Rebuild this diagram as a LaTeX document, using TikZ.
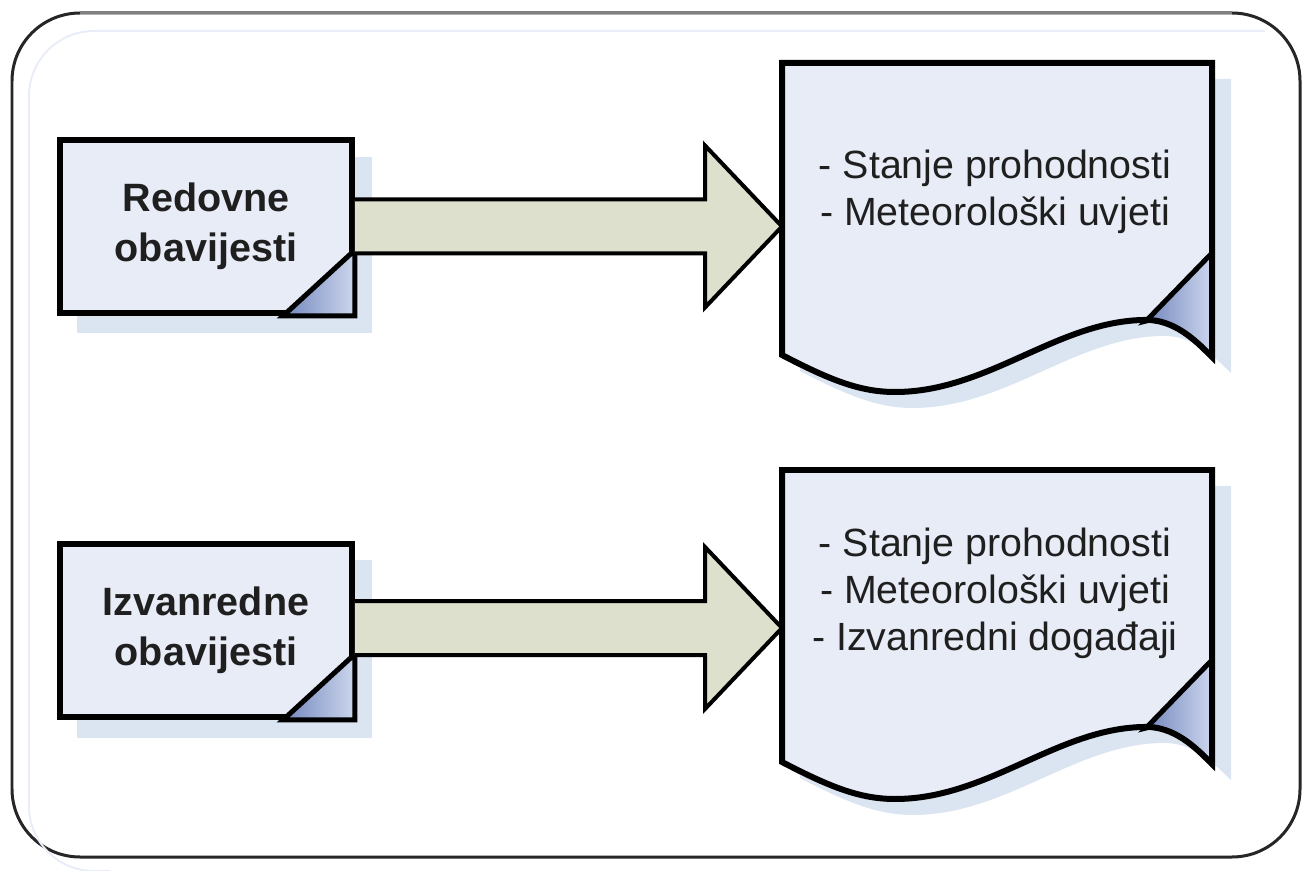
\documentclass[tikz,border=0pt]{standalone}
\usepackage{fontspec}
\setmainfont{Liberation Sans}
\usetikzlibrary{calc}

\begin{document}
\begin{tikzpicture}[x=0.02cm,y=-0.02cm,
  infobox/.style={draw=black,line width=0.12cm,fill=cbox,minimum width=5.84cm,minimum height=3.46cm,
    inner sep=0pt,align=center,text=ctext,font=\fontsize{22.5}{28.5}\selectfont\bfseries},
  doctext/.style={align=center,text=ctext,font=\fontsize{22.4}{26.7}\selectfont},
  blockarrow/.style={draw=black,line width=0.08cm,fill=carrow,line join=miter},
  docline/.style={draw=black,line width=0.12cm,line join=miter},
  fold/.style={left color=cfolda,right color=cfoldb,draw=black,line width=0.1cm,line join=miter},
  shadow/.style={fill=cshadow,draw=none}]
%
\useasboundingbox (0,0) rectangle (1302,871);
%
\definecolor{cframe}{rgb}{0.15,0.15,0.15}
\definecolor{ctop}{rgb}{0.5,0.5,0.5}
\definecolor{cinner}{rgb}{0.91,0.93,0.97}
\definecolor{cbox}{rgb}{0.91,0.925,0.965}
\definecolor{cshadow}{rgb}{0.86,0.895,0.945}
\definecolor{carrow}{rgb}{0.867,0.878,0.8}
\definecolor{cfolda}{rgb}{0.45,0.53,0.74}
\definecolor{cfoldb}{rgb}{0.8,0.84,0.93}
\definecolor{ctext}{rgb}{0.12,0.12,0.12}
%
% frame
\draw[line width=0.06cm,color=cframe,rounded corners=1.36cm] (12,13) rectangle (1300,857);
\draw[line width=0.06cm,color=ctop] (80,13) -- (1232,13);
\draw[line width=0.04cm,color=cinner,rounded corners=1.3cm] (1265,31) -- (29,31) -- (29,871) -- (110,871);
%
% shadows
\fill[shadow] (77,157) rectangle (372,333);
\fill[shadow] (77,560) rectangle (372,738);
\fill[shadow] (800,79) -- (1231,79) -- (1231,373) .. controls (1218,361) and (1198,338) .. (1168,336)
  .. controls (1078,334) and (1008,408) .. (913,408) .. controls (878,408) and (848,396) .. (800,371) -- cycle;
\fill[shadow] (800,486) -- (1231,486) -- (1231,780) .. controls (1218,768) and (1198,745) .. (1168,743)
  .. controls (1078,741) and (1008,815) .. (913,815) .. controls (878,815) and (848,803) .. (800,778) -- cycle;
%
% boxes
\node[infobox] (redovne) at (206,226.5) {Redovne\\obavijesti};
\node[infobox] (izvanredne) at (206,630.5) {Izvanredne\\obavijesti};
\shadedraw[fold] ($(redovne.south east)+(0,-66)$) -- (redovne.south east) -- ($(redovne.south east)+(-72,0)$) -- cycle;
\shadedraw[fold] ($(izvanredne.south east)+(0,-66)$) -- (izvanredne.south east) -- ($(izvanredne.south east)+(-72,0)$) -- cycle;
%
% documents
\coordinate (doca) at (782,226.5);
\coordinate (docb) at (782,628);
\fill[cbox] (782,63) -- (1212,63) -- (1212,357) .. controls (1198,343) and (1178,322) .. (1150,320)
  .. controls (1060,318) and (990,392) .. (895,392) .. controls (860,392) and (830,380) .. (782,355) -- cycle;
\shadedraw[fold] (1146,321) -- (1212,253) -- (1212,357) .. controls (1198,343) and (1178,322) .. (1150,320) -- cycle;
\draw[docline] (782,63) -- (1212,63) -- (1212,357) .. controls (1198,343) and (1178,322) .. (1150,320)
  .. controls (1060,318) and (990,392) .. (895,392) .. controls (860,392) and (830,380) .. (782,355) -- cycle;
\fill[cbox] (782,470) -- (1212,470) -- (1212,764) .. controls (1198,750) and (1178,729) .. (1150,727)
  .. controls (1060,725) and (990,799) .. (895,799) .. controls (860,799) and (830,787) .. (782,762) -- cycle;
\shadedraw[fold] (1146,728) -- (1212,660) -- (1212,764) .. controls (1198,750) and (1178,729) .. (1150,727) -- cycle;
\draw[docline] (782,470) -- (1212,470) -- (1212,764) .. controls (1198,750) and (1178,729) .. (1150,727)
  .. controls (1060,725) and (990,799) .. (895,799) .. controls (860,799) and (830,787) .. (782,762) -- cycle;
%
\node[doctext] (stavkea) at (995,192) {- Stanje prohodnosti\\- Meteorološki uvjeti};
\node[doctext] (stavkeb) at (995,593) {- Stanje prohodnosti\\- Meteorološki uvjeti\\- Izvanredni događaji};
%
% arrows
\filldraw[blockarrow] ($(redovne.east |- doca)+(0,-27)$) -- ($(doca)+(-77,-27)$) -- ($(doca)+(-77,-81)$) -- (doca)
  -- ($(doca)+(-77,81)$) -- ($(doca)+(-77,27)$) -- ($(redovne.east |- doca)+(0,27)$);
\filldraw[blockarrow] ($(izvanredne.east |- docb)+(0,-27)$) -- ($(docb)+(-77,-27)$) -- ($(docb)+(-77,-81)$) -- (docb)
  -- ($(docb)+(-77,81)$) -- ($(docb)+(-77,27)$) -- ($(izvanredne.east |- docb)+(0,27)$);
%
\end{tikzpicture}
\end{document}
